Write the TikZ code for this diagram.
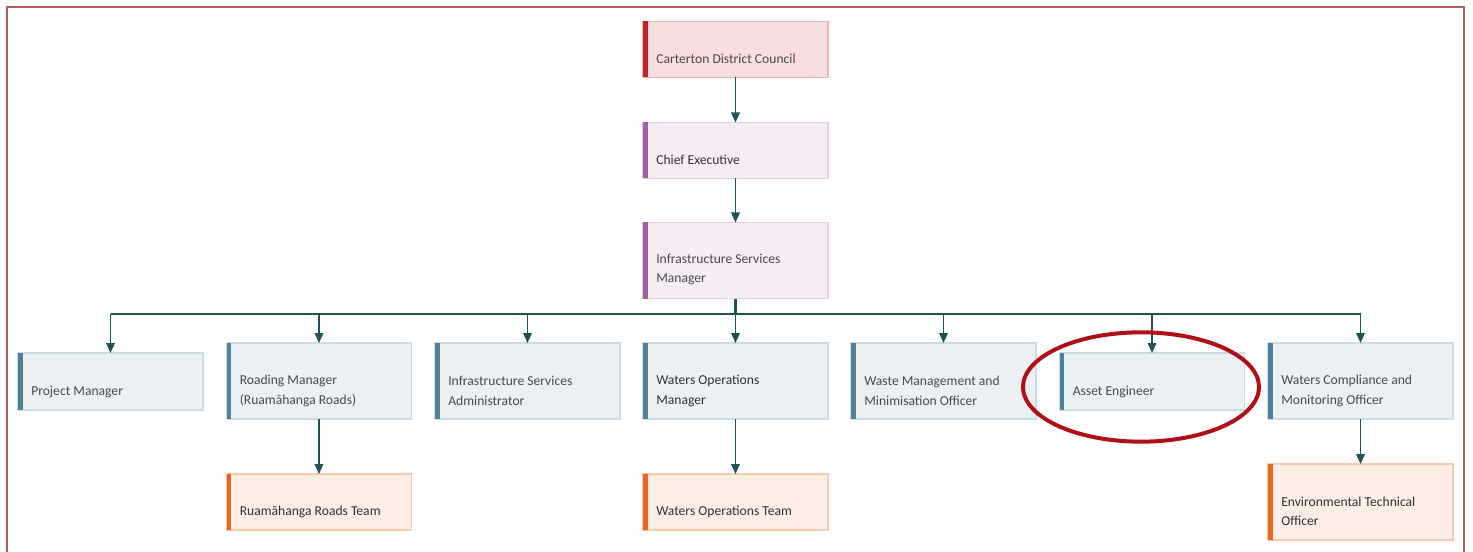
\documentclass[tikz,border=0pt]{standalone}
\usepackage{fontspec}
\setmainfont{Carlito}
\usetikzlibrary{arrows.meta,calc}
\definecolor{framecol}{HTML}{B06060}
\definecolor{framelt}{HTML}{EFCFCF}
\definecolor{arrcol}{HTML}{1F5357}
\definecolor{txtcol}{HTML}{4A4A4A}
\definecolor{redfill}{HTML}{F9DEDF}
\definecolor{redline}{HTML}{F2B5B6}
\definecolor{redbar}{HTML}{C0202A}
\definecolor{purfill}{HTML}{F6EDF4}
\definecolor{purline}{HTML}{E4CCE1}
\definecolor{purbar}{HTML}{A35DA1}
\definecolor{bluefill}{HTML}{EBF0F3}
\definecolor{blueline}{HTML}{CADCE5}
\definecolor{bluebar}{HTML}{4F809C}
\definecolor{orfill}{HTML}{FCEDE5}
\definecolor{orline}{HTML}{F8CBAE}
\definecolor{orbar}{HTML}{E8671F}
\definecolor{ellcol}{HTML}{B00F18}
\tikzset{
  orgbox/.style={draw=#1line, fill=#1fill, line width=0.9pt, minimum width=138.75pt, inner sep=0pt, outer sep=0pt},
  hsmall/.style={minimum height=42pt},
  hbig/.style={minimum height=57pt},
  txt/.style={anchor=west, align=left, text=txtcol, font=\fontsize{10.2}{14.6}\selectfont, inner sep=0pt},
  arr/.style={draw=arrcol, line width=1.1pt, -{Triangle[length=7.5pt,width=6.5pt]}},
  busline/.style={draw=arrcol, line width=1.6pt},
}
\begin{document}
\begin{tikzpicture}[x=0.75pt,y=-0.75pt]
\useasboundingbox (0,0) rectangle (1473,552);
% frame
\draw[framelt, line width=2.2pt] (7,560) -- (7,7) -- (1464,7) -- (1464,560);
\draw[framecol, line width=0.9pt] (7,560) -- (7,7) -- (1464,7) -- (1464,560);
% top chain
\node[orgbox=red, hsmall] (cdc) at (735.5,49.5) {};
\node[orgbox=pur, hsmall] (ce) at (735.5,150.5) {};
\node[orgbox=pur, hbig] (ism) at (735.5,260.5) {};
% row 2
\node[orgbox=blue, minimum height=42.75pt] (pm) at (110.5,381.5) {};
\node[orgbox=blue, hbig] (rm) at (319,381) {};
\node[orgbox=blue, hbig] (isa) at (527.5,381) {};
\node[orgbox=blue, hbig] (wom) at (735.5,381) {};
\node[orgbox=blue, hbig] (wmo) at (943.5,381) {};
\node[orgbox=blue, minimum height=42.75pt] (ae) at (1152,381.5) {};
\node[orgbox=blue, hbig] (wcmo) at (1360.5,381) {};
% row 3
\node[orgbox=or, hsmall] (rrt) at (319,502) {};
\node[orgbox=or, hsmall] (wot) at (735.5,502) {};
\node[orgbox=or, hbig] (eto) at (1360.5,502) {};
% bars
\foreach \n/\c in {cdc/redbar,ce/purbar,ism/purbar,pm/bluebar,rm/bluebar,isa/bluebar,wom/bluebar,wmo/bluebar,ae/bluebar,wcmo/bluebar,rrt/orbar,wot/orbar,eto/orbar}{
  \fill[\c] (\n.north west) rectangle ($(\n.south west)+(4.5,0)$);
}
% texts
\node[txt] (tcdc) at ($(cdc.west)+(13,9)$) {Carterton District Council};
\node[txt, text=black!80] (tce) at ($(ce.west)+(13,9.5)$) {Chief Executive};
\node[txt] (tism) at ($(ism.west)+(13,9)$) {Infrastructure Services\\Manager};
\node[txt] (tpm) at ($(pm.west)+(13,10.5)$) {Project Manager};
\node[txt] (trm) at ($(rm.west)+(13,10)$) {Roading Manager\\(Ruamāhanga Roads)};
\node[txt] (tisa) at ($(isa.west)+(13,10)$) {Infrastructure Services\\Administrator};
\node[txt, text=black!80] (twom) at ($(wom.west)+(13,10)$) {Waters Operations\\Manager};
\node[txt] (twmo) at ($(wmo.west)+(13,10)$) {Waste Management and\\Minimisation Officer};
\node[txt] (tae) at ($(ae.west)+(13,10.5)$) {Asset Engineer};
\node[txt] (twcmo) at ($(wcmo.west)+(13,10)$) {Waters Compliance and\\Monitoring Officer};
\node[txt, text=black!80] (trrt) at ($(rrt.west)+(13,9.5)$) {Ruamāhanga Roads Team};
\node[txt, text=black!80] (twot) at ($(wot.west)+(13,9.5)$) {Waters Operations Team};
\node[txt, text=black!80] (teto) at ($(eto.west)+(13,9.5)$) {Environmental Technical\\Officer};
% connectors
\draw[arr] (cdc.south) -- (ce.north);
\draw[arr] (ce.south) -- (ism.north);
\coordinate (bus) at (735.5,314);
\draw[busline] (ism.south) -- (bus);
\draw[busline] (bus -| pm.north) -- (bus -| wcmo.north);
\foreach \n in {pm,rm,isa,wom,wmo,ae,wcmo}{
  \draw[arr] (bus -| \n.north) -- (\n.north);
}
\draw[arr] (rm.south) -- (rrt.north);
\draw[arr] (wom.south) -- (wot.north);
\draw[arr] (wcmo.south) -- (eto.north);
% highlight ellipse
\draw[ellcol, line width=3pt] (1141,387) ellipse [x radius=88.5pt, y radius=41pt];
\end{tikzpicture}
\end{document}
